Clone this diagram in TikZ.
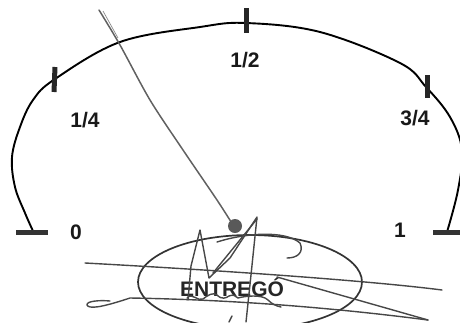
\documentclass[tikz,border=0pt]{standalone}
\usepackage{fontspec}
\setmainfont{Liberation Sans}
\begin{document}
\begin{tikzpicture}[x=1pt,y=-1pt,
  lbl/.style={font=\fontsize{21}{21}\selectfont\bfseries, text=black!90, inner sep=0pt},
  tickmark/.style={line width=5pt, black!85},
  endbar/.style={line width=5pt, black!80},
  pencil/.style={draw=black!62, line width=1.5pt, line cap=round, line join=round},
  ink/.style={draw=black!72, line width=1.4pt, line cap=round, line join=round}]
\useasboundingbox (0,0) rectangle (460,322);
% gauge arc
\draw[line width=1.9pt, black] plot[smooth, tension=0.6] coordinates
  {(33,231) (25,213) (15,187) (12,157) (20,127) (33,100) (55,79) (120,42) (200,27) (246,23) (320,32) (400,63) (426,87) (450,117) (462,150) (458,190) (447,232)};
% ticks
\draw[tickmark] (55,67) -- (54,92);
\draw[tickmark] (246,8) -- (246,33);
\draw[tickmark] (427,75) -- (427,98);
\draw[endbar] (16,232) -- (48,232);
\draw[endbar] (433,232) -- (462,232);
% labels
\node[lbl] (q0) at (76,232) {0};
\node[lbl] (q1) at (85,120) {1/4};
\node[lbl] (q2) at (245,60) {1/2};
\node[lbl] (q3) at (415,118) {3/4};
\node[lbl] (q4) at (400,230) {1};
% needle
\draw[pencil] plot[smooth] coordinates {(99,10) (120,45) (150,100) (183,150) (217,200) (233,225)};
\draw[black!45, line width=0.7pt] (103,11) -- (118,38);
\fill[black!65] (235,226) circle (7);
% stamp
\draw[black!80, line width=1.7pt] (250,282) ellipse (112 and 47);
\node[lbl, text=black!85] (stamp) at (232,287) {ENTREGÓ};
% signature strokes
\draw[ink] (85,263) .. controls (250,272) and (380,282) .. (442,290);
\draw[ink] (110,301) .. controls (100,300) and (86,301) .. (87,305) .. controls (89,309) and (100,308) .. (130,298) .. controls (250,300) and (350,310) .. (428,320);
\draw[ink] (277,277) -- (428,320);
\draw[ink] (188,300) -- (191,266) -- (200,230) -- (209,278) -- (230,258) -- (257,217) -- (251,275) -- (246,322);
\draw[ink] (213,273) -- (257,219);
\draw[ink] (217,242) .. controls (245,233) and (285,230) .. (300,243) .. controls (304,252) and (298,258) .. (287,258);
\draw[ink] (187,298) .. controls (192,292) and (198,302) .. (203,299) .. controls (208,295) and (213,292) .. (217,295) .. controls (222,300) and (226,298) .. (229,296) .. controls (233,294) and (236,296) .. (238,298) .. controls (245,296) and (262,294) .. (268,300) .. controls (272,304) and (276,306) .. (281,307);
\draw[ink] (232,316) -- (229,322);
\end{tikzpicture}
\end{document}
